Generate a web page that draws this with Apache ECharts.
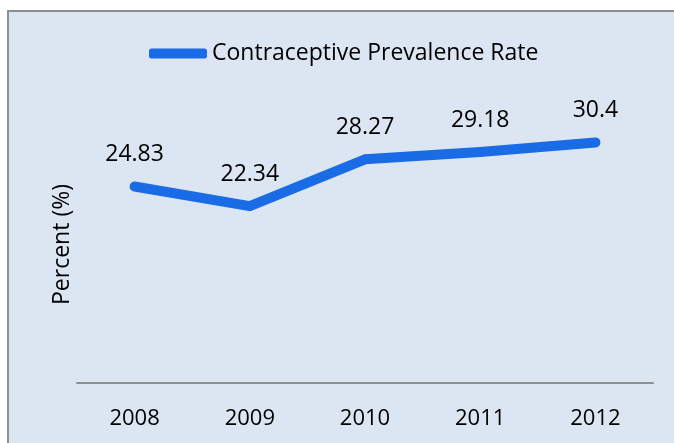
<!DOCTYPE html>
<html>
<head>
<meta charset="utf-8">
<script src="https://cdn.jsdelivr.net/npm/echarts@6/dist/echarts.min.js"></script>
<style>
  html, body { margin: 0; padding: 0; background: #fff; }
  #chart { width: 674px; height: 443px; }
</style>
</head>
<body>
<div id="chart"></div>
<script>
var years = ['2008', '2009', '2010', '2011', '2012'];
var rateValues = [24.83, 22.34, 28.27, 29.18, 30.4];
var seriesName = 'Contraceptive Prevalence Rate';

var chart = echarts.init(document.getElementById('chart'));
var fontFamily = '"Open Sans", "Noto Sans", sans-serif';
var lineColor = '#1a6be6';

var option = {
  backgroundColor: '#ffffff',
  animation: false,
  textStyle: { fontFamily: fontFamily, color: '#000' },
  graphic: [{
    type: 'rect',
    z: -10,
    shape: { x: 8, y: 11, width: 700, height: 500 },
    style: { fill: '#dce6f2', stroke: '#8f8f8f', lineWidth: 2 }
  }],
  legend: {
    left: 149,
    top: 42,
    padding: 0,
    icon: 'roundRect',
    itemWidth: 58,
    itemHeight: 10,
    itemGap: 0,
    textStyle: { fontSize: 23, color: '#000', fontFamily: fontFamily },
    data: [seriesName]
  },
  grid: {
    left: 77,
    right: 21,
    top: 106,
    bottom: 60
  },
  xAxis: {
    type: 'category',
    data: years,
    boundaryGap: true,
    axisLine: { lineStyle: { color: '#8f8f8f', width: 2 } },
    axisTick: { show: false },
    axisLabel: { fontSize: 22, color: '#000', margin: 25 }
  },
  yAxis: {
    type: 'value',
    min: 0,
    max: 35,
    name: 'Percent (%)',
    nameLocation: 'middle',
    nameGap: 3,
    nameTextStyle: { fontSize: 23, color: '#000' },
    axisLine: { show: false },
    axisTick: { show: false },
    axisLabel: { show: false },
    splitLine: { show: false }
  },
  series: [{
    name: seriesName,
    type: 'line',
    data: rateValues,
    symbol: 'circle',
    symbolSize: 9,
    showSymbol: true,
    color: lineColor,
    itemStyle: { color: lineColor },
    lineStyle: { width: 10, color: lineColor, cap: 'round', join: 'round' },
    label: {
      show: true,
      position: 'top',
      distance: 16,
      fontSize: 23,
      color: '#000'
    }
  }]
};

chart.setOption(option);
</script>
</body>
</html>
